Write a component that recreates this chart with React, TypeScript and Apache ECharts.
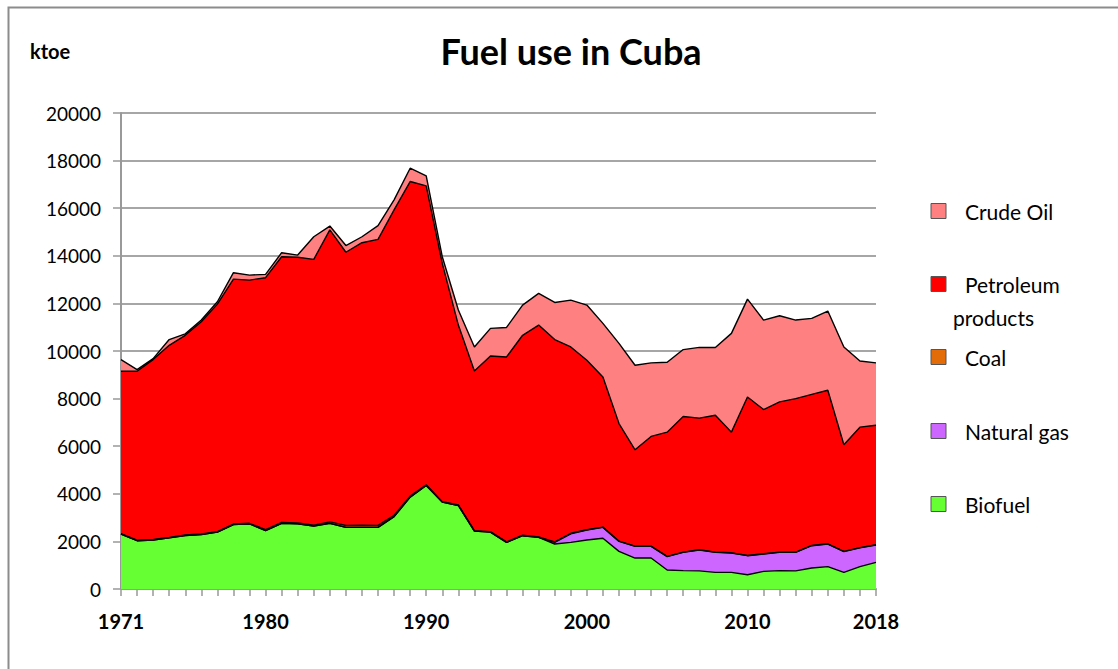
import React, { useEffect, useRef } from "react";
import * as echarts from "echarts";

const years: string[] = [];
for (let y = 1971; y <= 2018; y++) years.push(String(y));

const shownYears = ["1971", "1980", "1990", "2000", "2010", "2018"];
const yTicks = [0, 2000, 4000, 6000, 8000, 10000, 12000, 14000, 16000, 18000, 20000];

const biofuel = [
  2310, 2030, 2060, 2150, 2250, 2290, 2390, 2710, 2740, 2450,
  2760, 2740, 2640, 2760, 2590, 2590, 2590, 3040, 3860, 4350,
  3650, 3510, 2430, 2390, 1960, 2240, 2170, 1890, 1960, 2060,
  2130, 1580, 1300, 1300, 800, 770, 760, 700, 700, 600,
  740, 770, 760, 880, 940, 700, 940, 1120,
];

const naturalGas = [
  0, 0, 0, 0, 0, 0, 0, 0, 0, 0,
  0, 0, 0, 0, 0, 0, 0, 0, 0, 0,
  0, 0, 0, 0, 0, 0, 0, 70, 360, 420,
  460, 420, 490, 490, 560, 770, 880, 840, 810, 800,
  730, 770, 780, 940, 950, 870, 790, 730,
];

const coal = [
  20, 20, 20, 20, 20, 20, 20, 20, 20, 40,
  40, 40, 40, 60, 80, 90, 80, 60, 40, 30,
  20, 20, 20, 20, 20, 20, 20, 20, 20, 10,
  10, 10, 10, 10, 10, 10, 10, 10, 10, 10,
  10, 10, 10, 10, 10, 10, 10, 10,
];

const petroleum = [
  6820, 7100, 7560, 8070, 8390, 8920, 9560, 10290, 10220, 10590,
  11160, 11160, 11170, 12270, 11480, 11870, 12020, 12830, 13220, 12560,
  10010, 7560, 6710, 7380, 7770, 8400, 8900, 8500, 7830, 7120,
  6310, 4940, 4050, 4610, 5220, 5700, 5530, 5750, 5070, 6660,
  6060, 6310, 6450, 6350, 6450, 4480, 5060, 5020,
];

const crudeOil = [
  490, 70, 40, 240, 60, 70, 100, 270, 210, 140,
  170, 90, 950, 160, 280, 250, 580, 420, 560, 420,
  280, 630, 1010, 1160, 1240, 1270, 1330, 1560, 1970, 2320,
  2250, 3370, 3550, 3090, 2940, 2810, 2970, 2850, 4150, 4110,
  3760, 3620, 3300, 3190, 3330, 4110, 2780, 2620,
];

const seriesDefs = [
  { name: "Biofuel", data: biofuel, color: "#66FF33" },
  { name: "Natural gas", data: naturalGas, color: "#CC66FF" },
  { name: "Coal", data: coal, color: "#E36C09" },
  { name: "Petroleum products", data: petroleum, color: "#FF0000" },
  { name: "Crude Oil", data: crudeOil, color: "#FF8080" },
];

const legendItems = [
  { label: "Crude Oil", color: "#FF8080", y: 211 },
  { label: "Petroleum", color: "#FF0000", y: 284 },
  { label: "Coal", color: "#E36C09", y: 357 },
  { label: "Natural gas", color: "#CC66FF", y: 431 },
  { label: "Biofuel", color: "#66FF33", y: 504 },
];

const FONT = "Lato, 'Open Sans', sans-serif";

export default function App() {
  const ref = useRef<HTMLDivElement>(null);
  useEffect(() => {
    if (!ref.current) return;
    const chart = echarts.init(ref.current, null, { renderer: "svg" });
    const graphics: any[] = [
      {
        type: "rect",
        shape: { x: 8.5, y: 7.5, width: 1200, height: 700 },
        style: { fill: "none", stroke: "#8c8c8c", lineWidth: 2 },
        silent: true,
      },
      {
        type: "text",
        left: 30,
        top: 41,
        style: { text: "ktoe", font: `bold 20px ${FONT}`, fill: "#000" },
      },
    ];
    legendItems.forEach((it) => {
      graphics.push({
        type: "rect",
        shape: { x: 931, y: it.y - 7.5, width: 15, height: 15 },
        style: { fill: it.color, stroke: "#555", lineWidth: 1 },
      });
      graphics.push({
        type: "text",
        x: 965,
        y: it.y,
        style: {
          text: it.label,
          font: `21px ${FONT}`,
          fill: "#000",
          verticalAlign: "middle",
        },
      });
    });
    graphics.push({
      type: "text",
      x: 953,
      y: 317,
      style: {
        text: "products",
        font: `21px ${FONT}`,
        fill: "#000",
        verticalAlign: "middle",
      },
    });

    chart.setOption({
      animation: false,
      backgroundColor: "#fff",
      title: {
        text: "Fuel use in Cuba",
        left: 566,
        textAlign: "center",
        top: 28,
        textStyle: { fontFamily: FONT, fontWeight: "bold", fontSize: 36, color: "#000" },
      },
      graphic: graphics,
      grid: { left: 121, right: 242, top: 113, bottom: 80 },
      xAxis: {
        type: "category",
        data: years,
        boundaryGap: false,
        axisLine: { lineStyle: { color: "#999", width: 2 } },
        axisTick: { show: true, interval: 0, length: 7, lineStyle: { color: "#999", width: 1.5 } },
        axisLabel: {
          interval: (_i: number, v: string) => shownYears.includes(v),
          margin: 22,
          fontFamily: FONT,
          fontWeight: "bold",
          fontSize: 20,
          color: "#000",
        },
        splitLine: { show: false },
      },
      yAxis: {
        type: "value",
        min: yTicks[0],
        max: yTicks[yTicks.length - 1],
        interval: 2000,
        axisLine: { show: true, lineStyle: { color: "#999", width: 2 } },
        axisTick: { show: true, length: 8, lineStyle: { color: "#999", width: 1.5 } },
        axisLabel: {
          margin: 20,
          fontFamily: FONT,
          fontSize: 19,
          color: "#000",
          formatter: (v: number) => String(v),
        },
        splitLine: { show: true, lineStyle: { color: "#a6a6a6", width: 2 } },
      },
      series: seriesDefs.map((s) => ({
        name: s.name,
        type: "line",
        stack: "total",
        data: s.data,
        symbol: "none",
        showSymbol: false,
        lineStyle: { color: "#000", width: 1.4 },
        areaStyle: { color: s.color, opacity: 1 },
        itemStyle: { color: s.color },
      })),
    });
    return () => chart.dispose();
  }, []);
  return (
    <div
      ref={ref}
      style={{ position: "fixed", left: 0, top: 0, width: 1118, height: 669 }}
    />
  );
}
